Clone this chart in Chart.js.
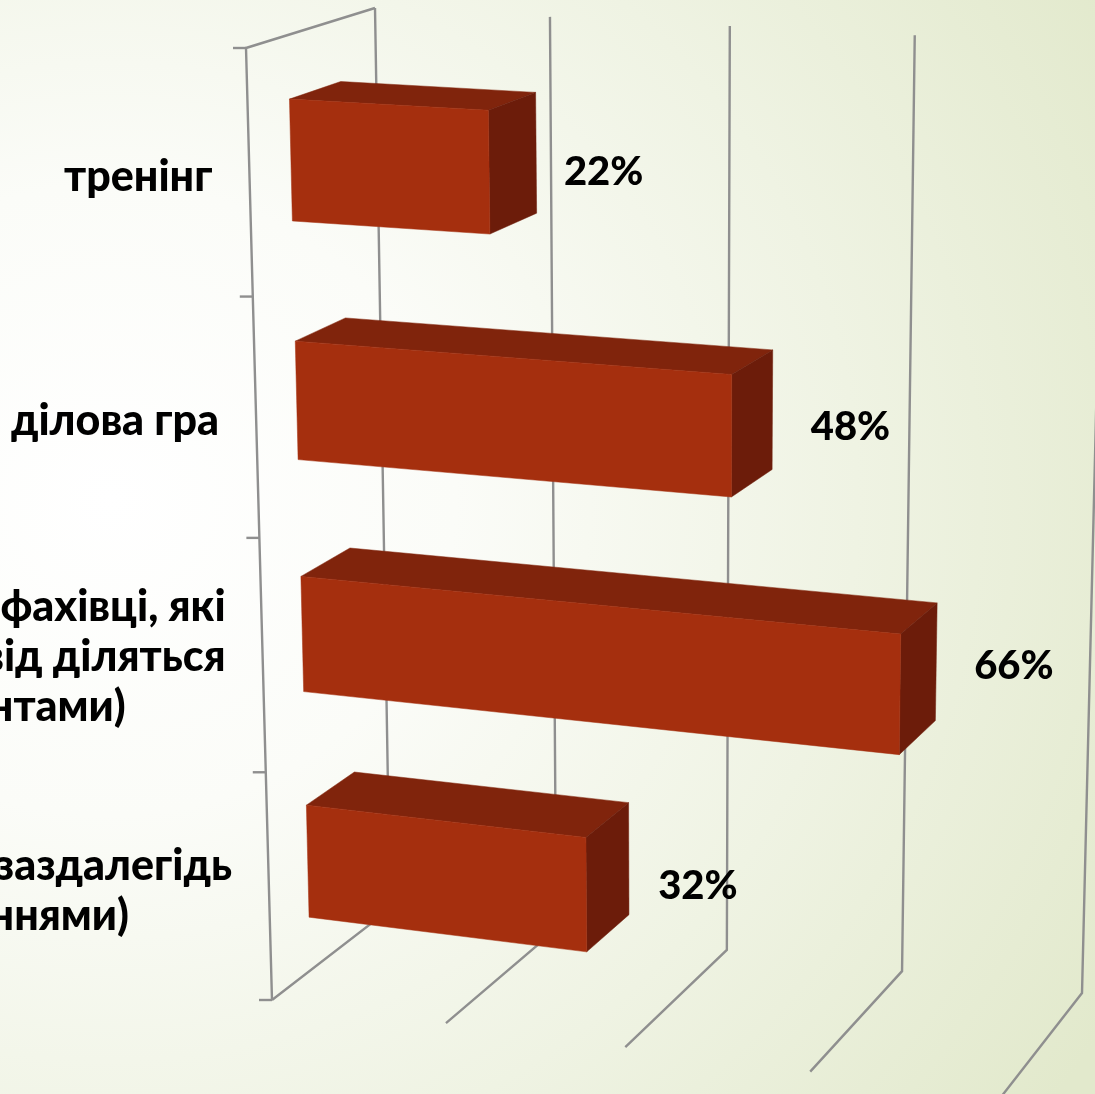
<!DOCTYPE html>
<html>
<head>
<meta charset="utf-8">
<style>
    html, body { margin: 0; padding: 0; overflow: hidden; }
    body {
        width: 1095px;
        height: 1094px;
        background: radial-gradient(ellipse 1150px 1050px at 110px 500px, #ffffff 0%, #fbfcf8 30%, #eff3e3 65%, #e2e9cc 100%);
    }
    #chart { display: block; }
</style>
</head>
<body>
<canvas id="chart" width="1095" height="1094"></canvas>
<script src="https://cdn.jsdelivr.net/npm/chart.js@4"></script>
<script>
// Chart data
const categories = [
    ['тренінг'],
    ['ділова гра'],
    ['фахівці, які', 'від діляться', 'нтами)'],
    ['заздалегідь', 'ннями)']
];
const values = [22, 48, 66, 32];
const valueTicks = [0, 20, 40, 60, 80];

// Styles
const COLOR_FRONT = '#a52f0e';
const COLOR_TOP = '#80240c';
const COLOR_SIDE = '#6c1c0a';
const COLOR_GRID = '#8f8f8f';
const FONT_VALUE = '900 40px Lato, "Noto Sans", sans-serif';
const FONT_CATEGORY = '900 43px Lato, "Noto Sans", sans-serif';
const LINE_INSETS = [[0], [0], [0, 0, 100], [0, 103]];
const CATEGORY_SHIFT_Y = [0, -1, -3, 0];
const VALUE_SHIFT = [[94, 11], [101, 5], [98, -12], [93, 9]];

// Corners of the front and back planes of the 3D box (TL, TR, BR, BL)
const FRONT_PLANE = [[246, 48], [1020, 87], [1001, 1097], [272, 1000]];
const BACK_PLANE = [[375, 8], [1105, 45], [1082, 993], [390, 909]];
const BAR_W0 = 0.325;
const BAR_W1 = 0.725;
const BAR_V_SHIFT = 0.0025;

function makeHomography(q) {
    const [[x0, y0], [x1, y1], [x2, y2], [x3, y3]] = q;
    const dx1 = x1 - x2, dx2 = x3 - x2, sx = x0 - x1 + x2 - x3;
    const dy1 = y1 - y2, dy2 = y3 - y2, sy = y0 - y1 + y2 - y3;
    const det = dx1 * dy2 - dx2 * dy1;
    const g = (sx * dy2 - dx2 * sy) / det;
    const h = (dx1 * sy - sx * dy1) / det;
    const a = x1 - x0 + g * x1, b = x3 - x0 + h * x3;
    const d = y1 - y0 + g * y1, e = y3 - y0 + h * y3;
    return (u, v) => {
        const k = g * u + h * v + 1;
        return [(a * u + b * v + x0) / k, (d * u + e * v + y0) / k];
    };
}

const frontH = makeHomography(FRONT_PLANE);
const backH = makeHomography(BACK_PLANE);

function project(u, v, w) {
    const f = frontH(u, v);
    const b = backH(u, v);
    return [f[0] + (b[0] - f[0]) * w, f[1] + (b[1] - f[1]) * w];
}

function polygon(ctx, points, color) {
    ctx.beginPath();
    points.forEach((p, i) => i ? ctx.lineTo(p[0], p[1]) : ctx.moveTo(p[0], p[1]));
    ctx.closePath();
    ctx.fillStyle = color;
    ctx.fill();
    ctx.strokeStyle = color;
    ctx.lineWidth = 0.5;
    ctx.stroke();
}

function line(ctx, points) {
    ctx.beginPath();
    points.forEach((p, i) => i ? ctx.lineTo(p[0], p[1]) : ctx.moveTo(p[0], p[1]));
    ctx.strokeStyle = COLOR_GRID;
    ctx.lineWidth = 2.4;
    ctx.stroke();
}

const box3d = {
    id: 'box3d',
    beforeDatasetsDraw(chart) {
        const ctx = chart.ctx;
        const xs = chart.scales.x;
        const ys = chart.scales.y;
        const toU = px => (px - xs.left) / xs.width;
        const toV = py => (py - ys.top) / ys.height;

        ctx.save();
        ctx.lineJoin = 'miter';

        // Grid lines: floor then back wall
        xs.ticks.forEach(t => {
            const u = toU(xs.getPixelForValue(t.value));
            line(ctx, [project(u, 1, 0), project(u, 1, 1), project(u, 0, 1)]);
        });
        // Left wall outline and ticks
        line(ctx, [project(0, 0, 1), project(0, 0, 0), project(0, 1, 0)]);
        const step = 1 / categories.length;
        for (let i = 0; i <= categories.length; i++) {
            const p = project(0, i * step, 0);
            line(ctx, [[p[0] - 13, p[1]], p]);
        }

        // Bars
        const bars = chart.getDatasetMeta(0).data;
        bars.forEach((bar, i) => {
            const u0 = toU(bar.base);
            const u1 = toU(bar.x);
            const v0 = toV(bar.y - bar.height / 2) + BAR_V_SHIFT;
            const v1 = toV(bar.y + bar.height / 2) + BAR_V_SHIFT;
            polygon(ctx, [project(u0, v0, BAR_W1), project(u1, v0, BAR_W1), project(u1, v0, BAR_W0), project(u0, v0, BAR_W0)], COLOR_TOP);
            polygon(ctx, [project(u1, v0, BAR_W0), project(u1, v0, BAR_W1), project(u1, v1, BAR_W1), project(u1, v1, BAR_W0)], COLOR_SIDE);
            polygon(ctx, [project(u0, v0, BAR_W0), project(u1, v0, BAR_W0), project(u1, v1, BAR_W0), project(u0, v1, BAR_W0)], COLOR_FRONT);

            // Value label
            const c = project(u1, toV(bar.y), 0.5);
            ctx.fillStyle = '#000';
            ctx.font = FONT_VALUE;
            ctx.textAlign = 'center';
            ctx.textBaseline = 'middle';
            ctx.fillText(values[i] + '%', c[0] + VALUE_SHIFT[i][0], c[1] + VALUE_SHIFT[i][1]);

            // Category label
            const lines = categories[i];
            const a = project(0, toV(bar.y), 0);
            ctx.font = FONT_CATEGORY;
            ctx.textAlign = 'right';
            lines.forEach((text, j) => {
                const y = a[1] + 4 + CATEGORY_SHIFT_Y[i] + (j - (lines.length - 1) / 2) * 50;
                ctx.fillText(text, a[0] - 37 - LINE_INSETS[i][j], y);
            });
        });
        ctx.restore();
        return false;
    }
};

new Chart(document.getElementById('chart'), {
    type: 'bar',
    data: {
        labels: categories.map(c => c.join(' ')),
        datasets: [{
            data: values,
            backgroundColor: COLOR_FRONT,
            barPercentage: 0.5,
            categoryPercentage: 1
        }]
    },
    options: {
        indexAxis: 'y',
        responsive: false,
        animation: false,
        layout: { padding: 0 },
        plugins: { legend: { display: false }, tooltip: { enabled: false } },
        scales: {
            x: {
                display: false,
                min: valueTicks[0],
                max: valueTicks[valueTicks.length - 1],
                ticks: { stepSize: valueTicks[1] - valueTicks[0] }
            },
            y: { display: false }
        }
    },
    plugins: [box3d]
});
</script>
</body>
</html>
